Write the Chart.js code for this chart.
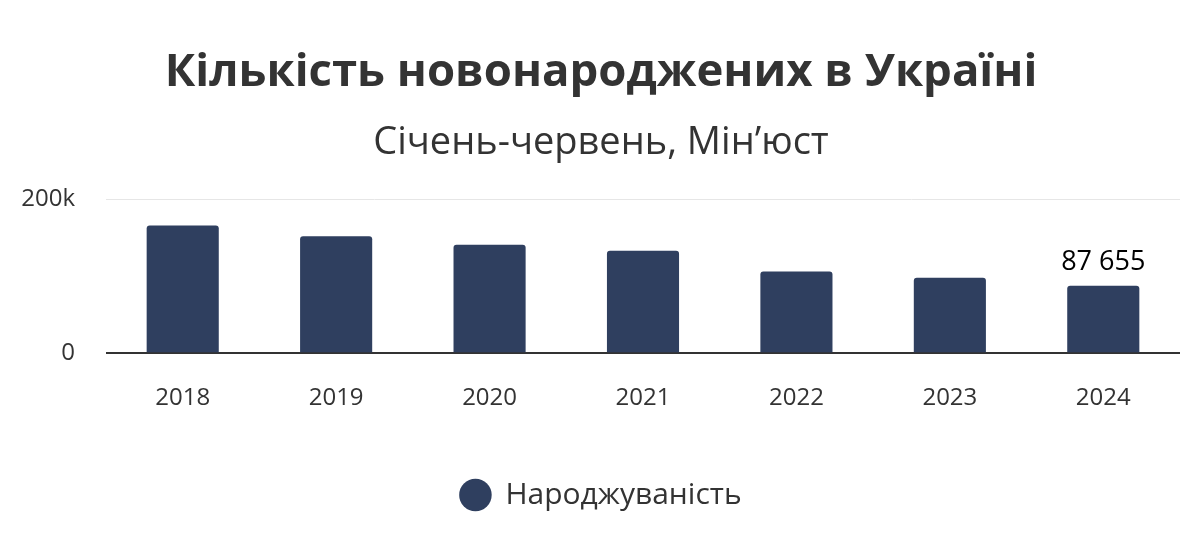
<!DOCTYPE html>
<html>
<head>
<meta charset="utf-8">
<script src="https://cdn.jsdelivr.net/npm/chart.js@4.4.1/dist/chart.umd.min.js"></script>
<style>
  html, body { margin: 0; padding: 0; background: #fff; }
  #wrap { width: 1200px; height: 550px; position: relative; }
</style>
</head>
<body>
<div id="wrap"><canvas id="birthsChart"></canvas></div>
<script>
// data (Jan-Jun births)
const years = ['2018', '2019', '2020', '2021', '2022', '2023', '2024'];
const births = [166000, 152000, 141000, 133000, 106000, 98000, 87655];
const yTicks = [0, 200000];
const yTickLabels = ['0', '200k'];

const FONT = "'Open Sans', 'Noto Sans', sans-serif";
const barColor = '#2f3f5f';

// value label over the last bar only
const lastLabel = {
  id: 'lastLabel',
  afterDatasetsDraw(chart) {
    const meta = chart.getDatasetMeta(0);
    const i = births.length - 1;
    const bar = meta.data[i];
    const ctx = chart.ctx;
    ctx.save();
    ctx.font = '500 27px ' + FONT;
    ctx.fillStyle = '#000';
    ctx.textAlign = 'center';
    ctx.textBaseline = 'bottom';
    const txt = births[i].toString().replace(/\B(?=(\d{3})+(?!\d))/g, ' ');
    ctx.fillText(txt, bar.x, bar.y - 10);
    ctx.restore();
  }
};

new Chart('birthsChart', {
  type: 'bar',
  data: {
    labels: years,
    datasets: [{
      label: 'Народжуваність',
      data: births,
      backgroundColor: barColor,
      borderRadius: 3,
      borderSkipped: 'bottom',
      barPercentage: 1,
      categoryPercentage: 0.47
    }]
  },
  options: {
    responsive: true,
    maintainAspectRatio: false,
    animation: false,
    layout: { padding: { left: 22, right: 20, top: 0, bottom: 30 } },
    plugins: {
      title: {
        display: true,
        text: 'Кількість новонароджених в Україні',
        color: '#333',
        font: { family: FONT, size: 45.5, weight: 'bold' },
        padding: { top: 46, bottom: 20 }
      },
      subtitle: {
        display: true,
        text: 'Січень-червень, Мін’юст',
        color: '#333',
        font: { family: FONT, size: 38, weight: '500' },
        padding: { top: 0, bottom: 33 }
      },
      legend: {
        position: 'bottom',
        labels: {
          color: '#333',
          font: { family: FONT, size: 30 },
          usePointStyle: true,
          pointStyle: 'circle',
          boxHeight: 23,
          padding: 10
        }
      },
      tooltip: { enabled: false }
    },
    scales: {
      x: {
        grid: { display: false },
        border: { display: false },
        ticks: { color: '#333', font: { family: FONT, size: 24 }, padding: 23 },
        afterFit(scale) { scale.height += 34; }
      },
      y: {
        min: 0,
        max: 200000,
        afterBuildTicks(axis) { axis.ticks = yTicks.map(v => ({ value: v })); },
        afterFit(scale) { scale.width = 84; },
        border: { display: false },
        grid: {
          drawTicks: false,
          color: c => c.tick.value === 0 ? '#333' : '#e6e6e6',
          lineWidth: c => c.tick.value === 0 ? 2 : 1
        },
        ticks: {
          color: '#333',
          font: { family: FONT, size: 24 },
          padding: 31,
          callback: (v) => yTickLabels[yTicks.indexOf(v)]
        }
      }
    }
  },
  plugins: [lastLabel]
});
</script>
</body>
</html>
